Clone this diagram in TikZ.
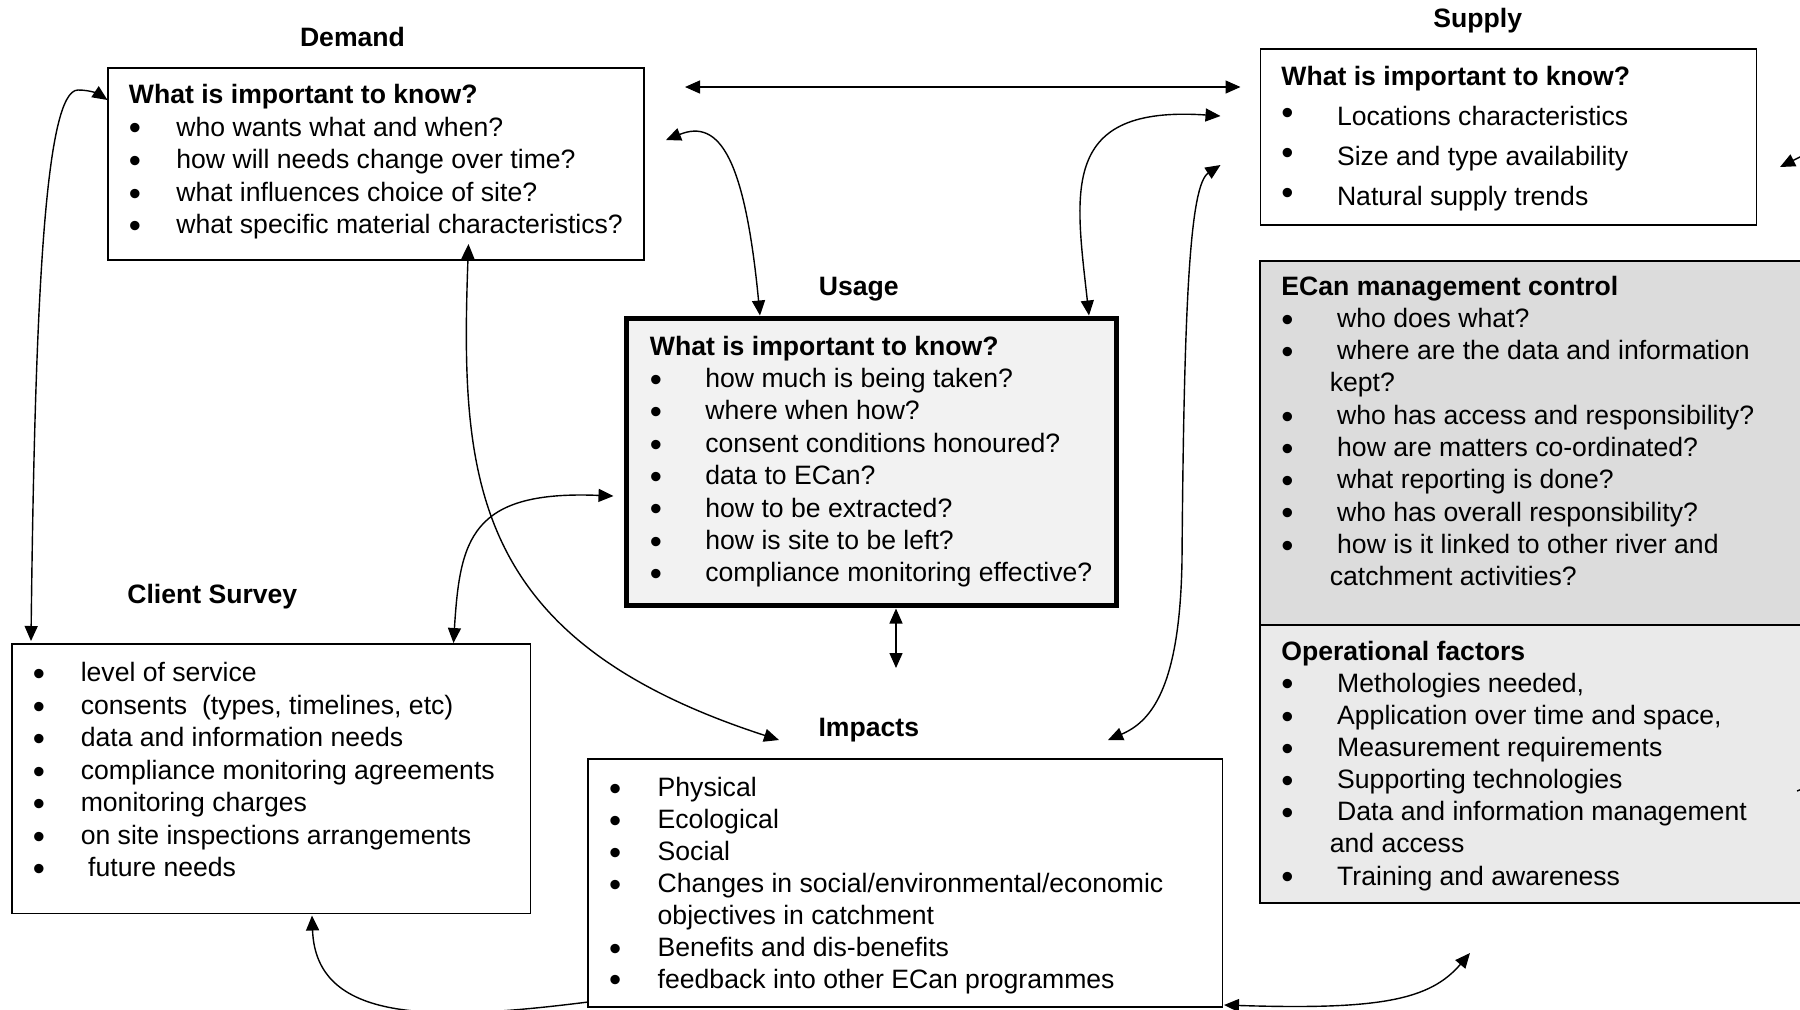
\documentclass[tikz,border=0pt]{standalone}
\usepackage{fontspec}
\setmainfont{Liberation Sans}
\usetikzlibrary{arrows.meta}
\newlength\bulw
\newcommand\bigbul{\raisebox{-1.9pt}{\scalebox{1.3}{\textbullet}}}
\newcommand\highbul{\raisebox{0.3pt}{\scalebox{1.3}{\textbullet}}}
\newcommand\Bl[1]{\makebox[\bulw][l]{\bigbul}#1}
\newcommand\Bh[1]{\makebox[\bulw][l]{\highbul}#1}
\newcommand\Cl[1]{\hspace*{\bulw}#1}
\newcommand\textlines[6]{%
  \foreach \lnitem [count=\i from 0] in {#6} {%
    \node[txt] (#1\i) at (#2, #3+\i*#4) {\setlength\bulw{#5}\lnitem};
  }%
}
\definecolor{ecangray}{HTML}{DCDCDC}
\definecolor{opsgray}{HTML}{EAEAEA}
\definecolor{usegray}{HTML}{F2F2F2}
\begin{document}
\begin{tikzpicture}[x=0.5pt,y=-0.5pt,
  txt/.style={anchor=base west, inner sep=0pt, font=\fontsize{13.3pt}{16pt}\selectfont},
  ttl/.style={anchor=base, inner sep=0pt, font=\bfseries\fontsize{13.3pt}{16pt}\selectfont},
  box/.style={draw, line width=0.8pt, inner sep=0pt, outer sep=0pt},
  conn/.style={draw=black, line width=0.7pt},
  >={Triangle[length=7.5pt,width=6.5pt]}]
\useasboundingbox (0,0) rectangle (1800,1009);
\clip (0,0) rectangle (1800,1009);

% boxes
\node[box, minimum width=268pt, minimum height=96pt] (demand) at (376,164) {};
\node[box, minimum width=248pt, minimum height=88pt] (supply) at (1508.5,137) {};
\node[box, fill=ecangray, minimum width=277.5pt, minimum height=182pt] (ecan) at (1537.5,443) {};
\node[box, fill=opsgray, minimum width=277.5pt, minimum height=139pt] (ops) at (1537.5,764) {};
\node[box, fill=usegray, line width=2.5pt, minimum width=245pt, minimum height=143.75pt] (usage) at (871,461.75) {};
\node[box, minimum width=259.3pt, minimum height=134.75pt] (client) at (271.3,778.75) {};
\node[box, minimum width=317.15pt, minimum height=123.9pt] (impacts) at (905.15,882.9) {};

% titles
\node[ttl] (tdemand) at (352.5,46) {Demand};
\node[ttl] (tsupply) at (1477.8,27) {Supply};
\node[ttl] (tusage) at (858.8,295) {Usage};
\node[ttl] (tclient) at (212.3,603) {Client Survey};
\node[ttl] (timpacts) at (868.8,736.7) {Impacts};

% texts
\textlines{dem}{128.5}{103.5}{32.6}{23.75pt}{\textbf{What is important to know?},%
\Bl{who wants what and when?},%
\Bl{how will needs change over time?},%
\Bl{what influences choice of site?},%
\Bl{what specific material characteristics?}}

\textlines{sup}{1281}{85}{40}{27.8pt}{\textbf{What is important to know?},%
\Bh{Locations characteristics},%
\Bh{Size and type availability},%
\Bh{Natural supply trends}}

\textlines{ecn}{1281}{295}{32.3}{24.2pt}{\textbf{ECan management control},%
\Bl{\ who does what?},%
\Bl{\ where are the data and information},%
\Cl{kept?},%
\Bl{\ who has access and responsibility?},%
\Bl{\ how are matters co-ordinated?},%
\Bl{\ what reporting is done?},%
\Bl{\ who has overall responsibility?},%
\Bl{\ how is it linked to other river and},%
\Cl{catchment activities?}}

\textlines{opf}{1281}{660}{32.15}{24.2pt}{\textbf{Operational factors},%
\Bl{\ Methologies needed,},%
\Bl{\ Application over time and space,},%
\Bl{\ Measurement requirements},%
\Bl{\ Supporting technologies},%
\Bl{\ Data and information management},%
\Cl{and access},%
\Bl{\ Training and awareness}}

\textlines{use}{649.5}{355}{32.4}{27.75pt}{\textbf{What is important to know?},%
\Bl{how much is being taken?},%
\Bl{where when how?},%
\Bl{consent conditions honoured?},%
\Bl{data to ECan?},%
\Bl{how to be extracted?},%
\Bl{how is site to be left?},%
\Bl{compliance monitoring effective?}}

\textlines{cli}{32.5}{681.7}{32.5}{23.95pt}{\Bl{level of service},%
\Bl{consents\ \ (types, timelines, etc)},%
\Bl{data and information needs},%
\Bl{compliance monitoring agreements},%
\Bl{monitoring charges},%
\Bl{on site inspections arrangements},%
\Bl{\ future needs}}

\textlines{imp}{608.8}{796.7}{31.9}{24.25pt}{\Bl{Physical},%
\Bl{Ecological},%
\Bl{Social},%
\Bl{Changes in social/environmental/economic},%
\Cl{objectives in catchment},%
\Bl{Benefits and dis-benefits},%
\Bl{feedback into other ECan programmes}}

% connector end points
\coordinate (ht1) at (685,87);
\coordinate (ht2) at (1240.5,87);
\coordinate (du1) at (666,140);
\coordinate (du2) at (760,315.5);
\coordinate (su1) at (1089,315.5);
\coordinate (su2) at (1220.5,116);
\coordinate (dc1) at (31,641);
\coordinate (dc2) at (107.5,100);
\coordinate (di1) at (468.5,244);
\coordinate (di2) at (779,740);
\coordinate (uc1) at (453.5,643);
\coordinate (uc2) at (613.5,496);
\coordinate (ui1) at (896,608.5);
\coordinate (ui2) at (896,668);
\coordinate (si1) at (1108,740);
\coordinate (si2) at (1220.5,165);
\coordinate (ic1) at (588,1002);
\coordinate (ic2) at (312,915.5);
\coordinate (ir1) at (1224,1005);
\coordinate (ir2) at (1470,953);
\coordinate (re1) at (1812,151);
\coordinate (re2) at (1780,167);
\coordinate (tm1) at (1797,791);
\coordinate (tm2) at (1802,789);

% connectors
\draw[conn,<->] (ht1) -- (ht2);
\draw[conn,<->] (du1) .. controls (720,118) and (745,160) .. (du2);
\draw[conn,<->] (su1) .. controls (1075,190) and (1060,105) .. (su2);
\draw[conn,<->] (dc1) .. controls (35,300) and (45,90) .. (78,90) .. controls (92,90) and (100,95) .. (dc2);
\draw[conn,<->] (di1) .. controls (460,480) and (470,640) .. (di2);
\draw[conn,<->] (uc1) .. controls (460,540) and (470,490) .. (uc2);
\draw[conn,<->] (ui1) -- (ui2);
\draw[conn,<->] (si1) .. controls (1150,722) and (1180,690) .. (1182,560) .. controls (1184,300) and (1190,185) .. (si2);
\draw[conn,->] (ic1) .. controls (430,1022) and (316,1022) .. (ic2);
\draw[conn,<->] (ir1) .. controls (1380,1010) and (1430,1000) .. (ir2);
\draw[conn,->] (re1) -- (re2);
\draw[conn] (tm1) -- (tm2);
\end{tikzpicture}
\end{document}
